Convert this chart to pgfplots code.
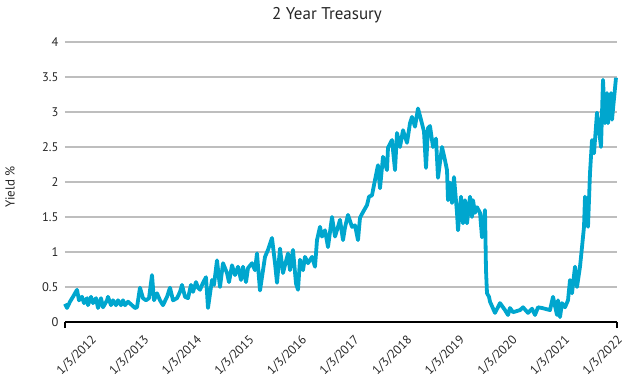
\documentclass[border=0pt]{standalone}
\usepackage{pgfplots}
\pgfplotsset{compat=1.18}
\usepackage{fontspec}
\setmainfont{PT Sans}
\definecolor{lineblue}{RGB}{0,166,206}
\definecolor{gridgray}{RGB}{190,190,190}
\begin{document}
\begin{tikzpicture}
\begin{axis}[
  scale only axis, width=552bp, height=280bp,
  xmin=0, xmax=552, ymin=0, ymax=4,
  clip=false,
  axis x line*=bottom, axis y line*=left,
  x axis line style={black, line width=1.6bp, -},
  y axis line style={draw=none},
  ytick={0,0.5,1,1.5,2,2.5,3,3.5,4},
  yticklabels={0,0.5,1,1.5,2,2.5,3,3.5,4},
  ymajorgrids, grid style={draw=gridgray, line width=1.1bp},
  ytick style={draw=none},
  xtick={15,67.6,120.2,172.8,225.4,278,330.6,383.2,435.8,488.4,541},
  xticklabels={1/3/2012,1/3/2013,1/3/2014,1/3/2015,1/3/2016,1/3/2017,1/3/2018,1/3/2019,1/3/2020,1/3/2021,1/3/2022},
  xtick style={draw=none},
  xmajorgrids=false,
  /pgf/number format/assume math mode=true,
  ticklabel style={font=\fontsize{12.5bp}{14bp}\selectfont, text=black!85},
  xticklabel style={rotate=45, anchor=north east, inner sep=1bp, yshift=-15bp},
  yticklabel style={xshift=-3bp},
  extra x ticks={0,552}, extra x tick labels={},
  extra x tick style={xtick style={draw=black, line width=1.2bp}, major tick length=6bp, tick align=outside, grid=none},
]
\addplot[color=lineblue, line width=3.8bp, line join=round, mark=none] table {
x y
0 0.26
2 0.20
5 0.29
8 0.36
12 0.46
14 0.31
17 0.36
19 0.27
22 0.34
23 0.24
26 0.36
28 0.27
31 0.34
33 0.20
36 0.34
38 0.21
42 0.31
43 0.36
46 0.24
48 0.31
51 0.24
53 0.31
56 0.24
58 0.31
60 0.24
63 0.29
67 0.24
70 0.20
72 0.21
75 0.49
78 0.34
81 0.31
84 0.34
87 0.67
89 0.31
92 0.41
95 0.31
98 0.24
102 0.36
105 0.49
108 0.31
112 0.34
115 0.43
117 0.53
120 0.36
123 0.34
126 0.53
128 0.43
131 0.57
133 0.49
135 0.46
138 0.56
141 0.64
143 0.20
147 0.60
149 0.53
152 0.88
155 0.50
158 0.84
162 0.70
164 0.57
167 0.81
170 0.67
173 0.79
176 0.60
178 0.79
181 0.57
183 0.77
187 0.84
190 0.74
192 0.98
195 0.45
200 0.93
203 1.03
207 1.20
210 0.84
212 0.56
215 1.05
218 0.70
223 0.98
225 0.74
228 1.03
231 0.55
233 0.46
235 0.89
238 0.74
240 0.93
243 0.84
247 0.93
250 0.79
252 1.17
255 1.36
257 1.22
260 1.31
263 1.07
267 1.50
270 1.22
273 1.36
275 1.46
278 1.17
280 1.35
283 1.53
287 1.36
290 1.38
293 1.17
295 1.49
298 1.57
302 1.67
304 1.79
307 1.81
310 2.03
313 2.24
315 1.91
318 2.36
322 2.17
323 2.49
327 2.60
330 2.17
332 2.70
335 2.50
338 2.74
342 2.56
345 2.84
347 2.93
350 2.79
353 3.05
356 2.89
359 2.72
361 2.20
363 2.77
365 2.80
368 2.50
371 2.62
373 2.06
377 2.50
380 2.31
382 2.17
383 1.74
385 1.99
387 1.70
389 2.07
392 1.56
393 1.31
396 1.79
398 1.41
400 1.74
402 1.41
405 1.79
407 1.50
408 1.74
410 1.56
412 1.64
415 1.56
417 1.21
420 1.60
421 0.74
422 0.41
424 0.36
425 0.29
430 0.13
435 0.27
440 0.17
443 0.10
445 0.20
448 0.14
455 0.17
458 0.21
463 0.13
467 0.19
470 0.10
473 0.21
477 0.20
485 0.17
488 0.36
492 0.10
493 0.31
495 0.07
497 0.27
500 0.21
503 0.31
505 0.60
507 0.41
510 0.79
512 0.50
515 0.79
517 1.07
519 1.36
520 1.79
523 1.36
525 2.13
527 2.60
529 2.41
532 2.99
534 2.74
536 2.50
538 3.46
540 2.84
542 3.27
543 2.84
546 3.27
547 2.89
551 3.49
};
\end{axis}
\node[font=\fontsize{17bp}{19bp}\selectfont, text=black!85] at ([shift={(262bp,27bp)}]current axis.north west) {2 Year Treasury};
\node[font=\fontsize{13bp}{15bp}\selectfont, text=black!85, rotate=90] at ([shift={(-55bp,135bp)}]current axis.south west) {Yield \%};
\pgfresetboundingbox
\path ([shift={(-65bp,-60bp)}]current axis.south west) rectangle ([shift={(9bp,42bp)}]current axis.north east);
\end{tikzpicture}
\end{document}
